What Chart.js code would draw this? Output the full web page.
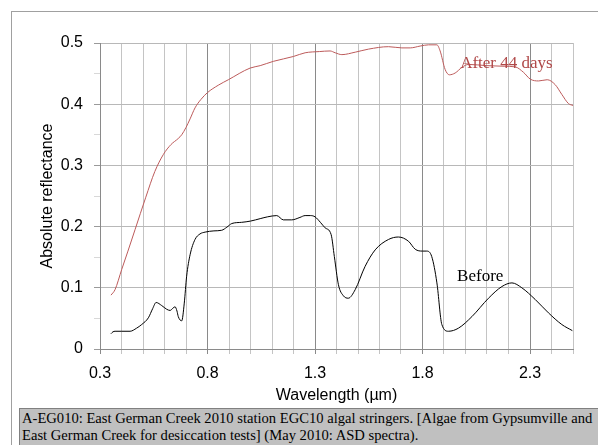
<!DOCTYPE html>
<html><head><meta charset="utf-8">
<script src="https://cdn.jsdelivr.net/npm/chart.js@4/dist/chart.umd.min.js"></script>
<style>
html,body{margin:0;padding:0;background:#fff;}
#wrap{position:relative;width:598px;height:445px;overflow:hidden;background:#fff;}
#c{position:absolute;left:0;top:0;}
#frame{position:absolute;left:11px;top:11px;width:700px;height:600px;border-left:1px solid #a0a0a0;border-top:1px solid #a0a0a0;}
#caption{position:absolute;left:19px;top:408px;width:700px;height:60px;background:#c0c0c0;border:1px solid #808080;box-sizing:border-box;
font-family:"Liberation Serif","Times New Roman",serif;font-size:14.6px;line-height:17px;color:#000;padding:1px 0 0 2px;white-space:nowrap;}
</style></head>
<body>
<div id="wrap">
<div id="frame"></div>
<canvas id="c" width="598" height="445"></canvas>
<div id="caption">A-EG010: East German Creek 2010 station EGC10 algal stringers. [Algae from Gypsumville and<br>East German Creek for desiccation tests] (May 2010: ASD spectra).</div>
</div>
<script>
// After 44 days (red)
const afterWl = [0.351,0.370,0.401,0.430,0.463,0.513,0.555,0.595,0.630,0.664,0.680,0.700,0.719,0.742,0.770,0.800,0.850,0.897,0.998,1.045,1.106,1.200,1.254,1.320,1.370,1.394,1.425,1.487,1.549,1.642,1.704,1.743,1.789,1.828,1.867,1.882,1.905,1.925,1.952,1.983,2.014,2.100,2.180,2.231,2.270,2.301,2.340,2.380,2.417,2.448,2.479,2.500];
const afterRefl = [0.088,0.097,0.130,0.160,0.195,0.248,0.290,0.318,0.334,0.344,0.350,0.362,0.376,0.394,0.408,0.419,0.431,0.440,0.459,0.463,0.470,0.478,0.484,0.486,0.487,0.484,0.481,0.485,0.490,0.494,0.492,0.492,0.495,0.497,0.497,0.487,0.457,0.448,0.451,0.460,0.465,0.463,0.462,0.461,0.452,0.441,0.438,0.440,0.432,0.416,0.401,0.398];
// Before (black)
const beforeWl = [0.351,0.360,0.370,0.401,0.440,0.470,0.494,0.525,0.545,0.561,0.587,0.610,0.626,0.640,0.649,0.658,0.664,0.680,0.692,0.703,0.719,0.742,0.765,0.789,0.830,0.866,0.890,0.913,0.959,1.000,1.045,1.080,1.122,1.153,1.192,1.230,1.254,1.280,1.300,1.325,1.347,1.375,1.390,1.409,1.432,1.455,1.487,1.533,1.580,1.642,1.688,1.735,1.766,1.800,1.820,1.843,1.867,1.890,1.921,1.967,2.030,2.107,2.169,2.216,2.262,2.324,2.386,2.448,2.497];
const beforeRefl = [0.025,0.028,0.029,0.029,0.029,0.034,0.040,0.051,0.066,0.076,0.071,0.065,0.063,0.067,0.069,0.062,0.053,0.046,0.075,0.119,0.154,0.179,0.188,0.191,0.193,0.194,0.199,0.205,0.207,0.209,0.213,0.216,0.218,0.211,0.211,0.215,0.218,0.218,0.216,0.207,0.198,0.187,0.151,0.105,0.087,0.083,0.097,0.135,0.162,0.179,0.183,0.176,0.163,0.160,0.160,0.151,0.108,0.040,0.029,0.034,0.053,0.083,0.102,0.108,0.100,0.081,0.059,0.040,0.030];
const xMajorLabels = ['0.3','0.8','1.3','1.8','2.3'];
const yLabels = ['0','0.1','0.2','0.3','0.4','0.5'];
const annotations = [
  {text:'After 44 days', x:1.975, y:0.4596, color:'#b04848'},
  {text:'Before', x:1.961, y:0.1105, color:'#000000'}
];
const redColor = '#bc5a5a';

const toPts = (xs, ys) => xs.map((x,i)=>({x:x, y:ys[i]}));

const labelPlugin = {
  id:'labels',
  afterDatasetsDraw(chart){
    const ctx = chart.ctx, xs = chart.scales.x, ys = chart.scales.y;
    ctx.save();
    ctx.font = '17px "Liberation Serif","Times New Roman",serif';
    ctx.textAlign = 'left'; ctx.textBaseline = 'alphabetic';
    annotations.forEach(a=>{ ctx.fillStyle = a.color; ctx.fillText(a.text, xs.getPixelForValue(a.x), ys.getPixelForValue(a.y)); });
    ctx.restore();
  }
};

const isXMajor = v => { const k = Math.round(v*10); return (k-3)%5===0; };
const isYMajor = v => Math.round(v*100)%10===0;

new Chart(document.getElementById('c'), {
  type:'scatter',
  data:{datasets:[
    {label:'After 44 days', data:toPts(afterWl, afterRefl), showLine:true, borderColor:redColor, borderWidth:1, pointRadius:0, cubicInterpolationMode:'monotone', fill:false},
    {label:'Before', data:toPts(beforeWl, beforeRefl), showLine:true, borderColor:'#000', borderWidth:1, pointRadius:0, cubicInterpolationMode:'monotone', fill:false}
  ]},
  options:{
    responsive:false, animation:false, devicePixelRatio:1,
    layout:{padding:{left:0, right:25, top:43, bottom:38}},
    plugins:{legend:{display:false}, tooltip:{enabled:false}},
    scales:{
      x:{type:'linear', min:0.3, max:2.5,
        afterFit(s){ s.height = 58; },
        ticks:{stepSize:0.1, autoSkip:false, maxRotation:0, padding:10, color:'#000',
          font:{family:'"Liberation Sans",Arial,sans-serif', size:16},
          callback:(v)=>{ if(!isXMajor(v)) return ''; const k=(Math.round(v*10)-3)/5; return xMajorLabels[k]; }},
        grid:{color:(c)=> (c.tick && isXMajor(c.tick.value)) ? '#8a8a8a' : '#c4c4c4', lineWidth:1, tickLength:5,
          tickColor:(c)=> (c.tick && isXMajor(c.tick.value)) ? '#8a8a8a' : '#c4c4c4'},
        border:{color:'#8a8a8a'},
        title:{display:true, text:'Wavelength (µm)', color:'#000', padding:{top:0,bottom:2},
          font:{family:'"Liberation Sans",Arial,sans-serif', size:16}}
      },
      y:{type:'linear', min:0, max:0.5,
        afterFit(s){ s.width = 100; },
        ticks:{stepSize:0.05, autoSkip:false, padding:11, color:'#000',
          font:{family:'"Liberation Sans",Arial,sans-serif', size:16},
          callback:(v)=>{ if(!isYMajor(v)) return ''; return yLabels[Math.round(v*10)]; }},
        grid:{color:(c)=> (c.tick && isYMajor(c.tick.value)) ? '#b8b8b8' : 'rgba(0,0,0,0)', lineWidth:1, tickLength:6,
          tickColor:(c)=> (c.tick && isYMajor(c.tick.value)) ? '#9a9a9a' : '#d8d8d8'},
        border:{color:'#8a8a8a'},
        title:{display:true, text:'Absolute reflectance', color:'#000', padding:{top:38,bottom:0},
          font:{family:'"Liberation Sans",Arial,sans-serif', size:16}}
      }
    }
  },
  plugins:[labelPlugin]
});
</script>
</body></html>
